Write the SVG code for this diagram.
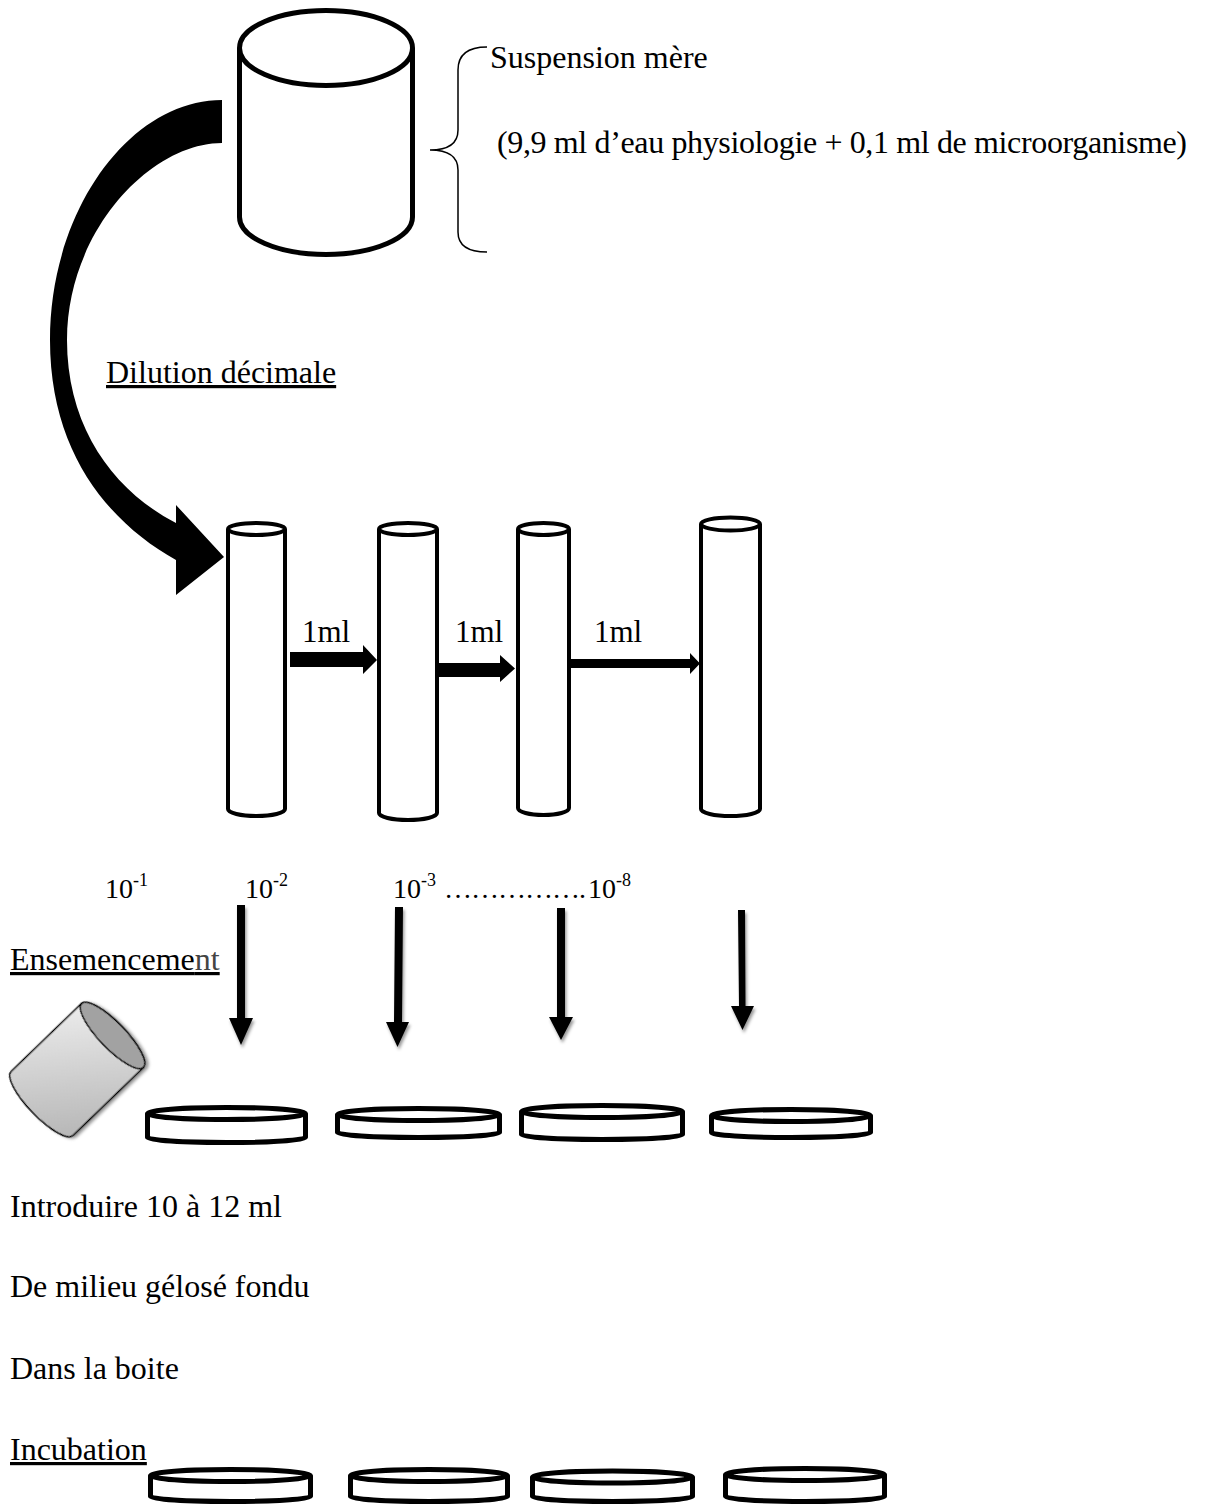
<svg xmlns="http://www.w3.org/2000/svg" width="1218" height="1506" viewBox="0 0 1218 1506">
<style>
.t{font-family:"Liberation Serif","Times New Roman",serif;font-size:32px;fill:#000}
.lbl{font-family:"Liberation Serif","Times New Roman",serif;font-size:28px;fill:#000}
.sup{font-size:18px}
.ml{font-family:"Liberation Serif","Times New Roman",serif;font-size:31px;fill:#000}
.u{text-decoration:underline}
.big{fill:#fff;stroke:#000;stroke-width:5}
.tube{fill:#fff;stroke:#000;stroke-width:4}
.dish{fill:#fff;stroke:#000;stroke-width:5}
.blk{fill:#000;stroke:none}
</style>
<defs>
<linearGradient id="gBody" x1="0" y1="1" x2="1" y2="0">
<stop offset="0" stop-color="#b4b4b4"/>
<stop offset="1" stop-color="#ececec"/>
</linearGradient>
<filter id="sh" x="-50%" y="-50%" width="200%" height="200%">
<feDropShadow dx="1.5" dy="3" stdDeviation="1.5" flood-color="#000" flood-opacity="0.4"/>
</filter>
</defs>

<rect width="1218" height="1506" fill="#fff"/>

<g id="mother-suspension">
<path class="big" d="M239.5 48 V217 A86.5 37.5 0 0 0 412.5 217 V48"/>
<ellipse class="big" cx="326" cy="48" rx="86.5" ry="37.5"/>
</g>

<g id="mother-label">
<path d="M487 47 Q458 47 458 70 V130 Q458 150 430 150 Q458 150 458 170 V232 Q458 252 487 252" fill="none" stroke="#000" stroke-width="1.5"/>
<text class="t" x="490" y="68">Suspension mère</text>
<text class="t" x="497" y="153" textLength="690" lengthAdjust="spacing">(9,9 ml d’eau physiologie + 0,1 ml de microorganisme)</text>
</g>

<g id="dilution-label">
<text class="t u" x="106" y="383">Dilution décimale</text>
</g>

<g id="tube1">
<path class="tube" d="M228 529 V809 A28.5 7 0 0 0 285 809 V529"/>
<ellipse class="tube" cx="256.5" cy="529" rx="28.5" ry="6"/>
</g>
<g id="tube2">
<path class="tube" d="M379 529 V813 A29 7 0 0 0 437 813 V529"/>
<ellipse class="tube" cx="408" cy="529" rx="29" ry="6"/>
</g>
<g id="tube3">
<path class="tube" d="M518 529 V808 A25.5 7 0 0 0 569 808 V529"/>
<ellipse class="tube" cx="543.5" cy="529" rx="25.5" ry="6"/>
</g>
<g id="tube4">
<path class="tube" d="M701 524 V809 A29.5 7 0 0 0 760 809 V524"/>
<ellipse class="tube" cx="730.5" cy="524" rx="29.5" ry="6.5"/>
</g>

<g id="transfer-labels">
<text class="ml" x="302" y="642">1ml</text>
<text class="ml" x="455" y="642">1ml</text>
<text class="ml" x="594" y="642">1ml</text>
</g>

<g id="dilution-labels">
<text class="lbl" x="105" y="898">10<tspan class="sup" dy="-12">-1</tspan></text>
<text class="lbl" x="245" y="898">10<tspan class="sup" dy="-12">-2</tspan></text>
<text class="lbl" x="393" y="898">10<tspan class="sup" dy="-12">-3</tspan></text>
<text class="lbl" x="444" y="898" textLength="142" lengthAdjust="spacing">…………….</text>
<text class="lbl" x="588" y="898">10<tspan class="sup" dy="-12">-8</tspan></text>
</g>

<g id="ensemencement-label">
<text class="t u" x="10" y="970">Ensemenceme<tspan fill="#444">nt</tspan></text>
</g>

<g id="pouring-flask">
<g transform="translate(42 1103.5) rotate(-44)" filter="url(#sh)">
<path d="M0 -44.5 H98 V44.5 H0 A13 44.5 0 0 1 0 -44.5 Z" fill="url(#gBody)" stroke="#000" stroke-width="1.5"/>
<ellipse cx="98" cy="0" rx="13" ry="44.5" fill="#a2a2a2" stroke="#000" stroke-width="1.5"/>
</g>
</g>

<g id="dish1">
<path class="dish" d="M147.5 1113.5 V1137.5 A79 5 0 0 0 305.5 1137.5 V1113.5"/>
<ellipse class="dish" cx="226.5" cy="1113.5" rx="79" ry="6"/>
</g>
<g id="dish2">
<path class="dish" d="M337.5 1114.5 V1132.5 A81 5 0 0 0 499.5 1132.5 V1114.5"/>
<ellipse class="dish" cx="418.5" cy="1114.5" rx="81" ry="6"/>
</g>
<g id="dish3">
<path class="dish" d="M521.5 1111.5 V1134.5 A80.5 5 0 0 0 682.5 1134.5 V1111.5"/>
<ellipse class="dish" cx="602" cy="1111.5" rx="80.5" ry="6"/>
</g>
<g id="dish4">
<path class="dish" d="M711.5 1115.5 V1132.5 A79.5 5 0 0 0 870.5 1132.5 V1115.5"/>
<ellipse class="dish" cx="791" cy="1115.5" rx="79.5" ry="6"/>
</g>

<g id="instructions">
<text class="t" x="10" y="1217">Introduire 10 à 12 ml</text>
<text class="t" x="10" y="1297">De milieu gélosé fondu</text>
<text class="t" x="10" y="1379">Dans la boite</text>
<text class="t u" x="10" y="1460">Incubation</text>
</g>

<g id="incub-dish1">
<path class="dish" d="M150.5 1475.5 V1496.5 A80 5 0 0 0 310.5 1496.5 V1475.5"/>
<ellipse class="dish" cx="230.5" cy="1475.5" rx="80" ry="6"/>
</g>
<g id="incub-dish2">
<path class="dish" d="M350.5 1475.5 V1496.5 A78.5 5 0 0 0 507.5 1496.5 V1475.5"/>
<ellipse class="dish" cx="429" cy="1475.5" rx="78.5" ry="6"/>
</g>
<g id="incub-dish3">
<path class="dish" d="M532.5 1477 V1496.5 A80 5 0 0 0 692.5 1496.5 V1477"/>
<ellipse class="dish" cx="612.5" cy="1477" rx="80" ry="6"/>
</g>
<g id="incub-dish4">
<path class="dish" d="M725.5 1474.5 V1496.5 A79.5 5 0 0 0 884.5 1496.5 V1474.5"/>
<ellipse class="dish" cx="805" cy="1474.5" rx="79.5" ry="6"/>
</g>

<g id="connectors">
<path id="curved-arrow" class="blk" d="M222 100 C130 100 50 210 50 340 C50 452 108 522 176 560 L176 595 L224 557 L176 505 L176 523 C114 491 67 428 67 340 C67 232 150 143 222 143 Z"/>
<g id="transfer-arrows" class="blk">
<path d="M290 652 H363 V645 L377 660 L363 674 V667 H290 Z"/>
<path d="M439 663 H500 V655 L515 668.5 L500 682 V677 H439 Z"/>
<path d="M571 659 H690 V653 L700 663.5 L690 674 V668 H571 Z"/>
</g>
<g id="seeding-arrows" class="blk" filter="url(#sh)">
<path d="M237 905 H245 V1018 H253 L241 1045 L229 1018 H237 Z"/>
<path d="M395 907 H403 L402 1022 H409 L397.5 1047 L386 1022 H394 Z"/>
<path d="M557 908 H565 V1017 H573 L561 1040 L549 1017 H557 Z"/>
<path d="M738 910 H745 L745.5 1006 H754 L742.5 1030 L731 1006 H739 Z"/>
</g>
</g>
</svg>
